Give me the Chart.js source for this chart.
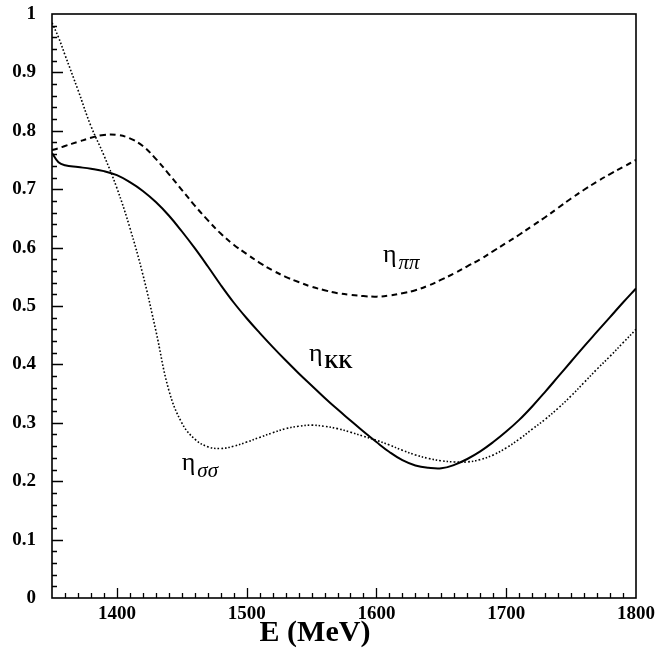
<!DOCTYPE html>
<html>
<head>
<meta charset="utf-8">
<script src="https://cdn.jsdelivr.net/npm/chart.js@4.4.1/dist/chart.umd.min.js"></script>
<style>
  html, body { margin: 0; padding: 0; background: #fff; }
  #wrap { width: 669px; height: 661px; position: relative; }
</style>
</head>
<body>
<div id="wrap"><canvas id="c" width="669" height="661"></canvas></div>
<script>
// Energy grid (MeV)
const energies = [1350,1355,1360,1370,1380,1390,1400,1410,1420,1430,1440,1450,1460,1470,1480,1490,
  1500,1510,1520,1530,1540,1550,1560,1570,1580,1590,1600,1610,1620,1630,1640,1650,1660,1670,1680,1690,
  1700,1710,1720,1730,1740,1750,1760,1770,1780,1790,1800];

// Inelasticity for the K Kbar channel (solid)
const etaKK = [0.762,0.746,0.741,0.738,0.735,0.731,0.724,0.712,0.697,0.678,0.655,0.628,0.599,0.568,0.536,0.506,
  0.479,0.454,0.430,0.407,0.385,0.364,0.343,0.323,0.304,0.285,0.267,0.250,0.236,0.227,0.223,0.222,0.228,0.238,0.251,0.267,
  0.285,0.305,0.328,0.353,0.379,0.405,0.431,0.456,0.481,0.506,0.530];

// Inelasticity for the pi pi channel (dashed)
const etaPiPi = [0.767,0.770,0.774,0.781,0.788,0.793,0.793,0.787,0.774,0.752,0.726,0.699,0.672,0.647,0.624,0.605,
  0.589,0.574,0.561,0.550,0.541,0.533,0.527,0.522,0.519,0.517,0.516,0.518,0.522,0.527,0.535,0.545,0.556,0.568,0.580,0.594,
  0.608,0.622,0.637,0.652,0.668,0.684,0.699,0.713,0.726,0.738,0.750];

// Inelasticity for the sigma sigma channel (dotted)
const etaSigSig = [0.985,0.960,0.930,0.870,0.808,0.758,0.702,0.634,0.554,0.458,0.356,0.300,0.272,0.259,0.256,0.260,
  0.267,0.275,0.283,0.290,0.294,0.296,0.294,0.290,0.284,0.277,0.270,0.262,0.253,0.245,0.239,0.235,0.233,0.233,0.237,0.245,
  0.257,0.272,0.289,0.306,0.325,0.346,0.369,0.392,0.414,0.437,0.460];

const xTickValues = [1400,1500,1600,1700,1800];
const yTickValues = [0,0.1,0.2,0.3,0.4,0.5,0.6,0.7,0.8,0.9,1];
const yTickLabels = ['0','0.1','0.2','0.3','0.4','0.5','0.6','0.7','0.8','0.9','1'];
const xAxisTitle = 'E (MeV)';

const SERIF = '"Liberation Serif", "Times New Roman", serif';
const pts = ys => energies.map((e, i) => ({ x: e, y: ys[i] }));

// Inward tick marks, frame, axis title and curve labels
const decorations = {
  id: 'decorations',
  afterDraw(chart) {
    const { ctx, chartArea: a, scales: { x, y } } = chart;
    ctx.save();
    ctx.strokeStyle = '#000';
    ctx.lineWidth = 1.3;
    ctx.beginPath();
    for (let v = 1350; v <= 1800; v += 10) {
      if (v === 1350 || v === 1800) continue;
      const px = Math.round(x.getPixelForValue(v)) + 0.5;
      const len = (v % 100 === 0) ? 10 : 5;
      ctx.moveTo(px, a.bottom); ctx.lineTo(px, a.bottom - len);
    }
    for (let k = 1; k < 50; k++) {
      const v = k / 50;
      const py = Math.round(y.getPixelForValue(v)) + 0.5;
      const len = (k % 5 === 0) ? 11 : 5;
      ctx.moveTo(a.left, py); ctx.lineTo(a.left + len, py);
    }
    ctx.stroke();
    ctx.lineWidth = 1.6;
    ctx.strokeRect(a.left, a.top, a.right - a.left, a.bottom - a.top);

    ctx.fillStyle = '#000';
    ctx.textBaseline = 'alphabetic';
    ctx.textAlign = 'left';
    ctx.font = 'bold 30px ' + SERIF;
    const tw = ctx.measureText(xAxisTitle).width;
    ctx.fillText(xAxisTitle, 315 - tw / 2, 641);

    const label = (xv, yv, sub, subFont) => {
      const px = x.getPixelForValue(xv), py = y.getPixelForValue(yv);
      ctx.font = '26px ' + SERIF;
      ctx.fillText('\u03B7', px, py);
      const w = ctx.measureText('\u03B7').width;
      ctx.font = subFont;
      ctx.fillText(sub, px + w + 2, py + 7);
    };
    label(1605, 0.575, '\u03C0\u03C0', 'italic 21px ' + SERIF);
    label(1548, 0.405, 'KK', 'bold 18px ' + SERIF);
    label(1450, 0.22, '\u03C3\u03C3', 'italic 21px ' + SERIF);
    ctx.restore();
  }
};

new Chart(document.getElementById('c'), {
  type: 'line',
  data: {
    datasets: [
      { label: 'etaPiPi', data: pts(etaPiPi), borderColor: '#000', borderWidth: 2,
        borderDash: [6, 4], pointRadius: 0, tension: 0.4 },
      { label: 'etaKK', data: pts(etaKK), borderColor: '#000', borderWidth: 2,
        pointRadius: 0, tension: 0.4 },
      { label: 'etaSigSig', data: pts(etaSigSig), borderColor: '#000', borderWidth: 1.6,
        borderDash: [1.6, 2], pointRadius: 0, tension: 0.4 }
    ]
  },
  options: {
    responsive: false,
    animation: false,
    events: [],
    layout: { padding: { top: 14, right: 33, left: 0, bottom: 0 } },
    plugins: { legend: { display: false }, tooltip: { enabled: false } },
    scales: {
      x: {
        type: 'linear', min: 1350, max: 1800,
        grid: { display: false }, border: { display: false },
        afterBuildTicks: s => { s.ticks = xTickValues.map(v => ({ value: v })); },
        afterFit: s => { s.height = 63; s.paddingLeft = 0; s.paddingRight = 0; },
        ticks: { color: '#000', padding: -3, maxRotation: 0,
          font: { family: SERIF, size: 19, weight: 'bold' },
          callback: v => String(v) }
      },
      y: {
        type: 'linear', min: 0, max: 1,
        grid: { display: false }, border: { display: false },
        afterBuildTicks: s => { s.ticks = yTickValues.map(v => ({ value: v })); },
        afterFit: s => { s.width = 52; s.paddingTop = 0; s.paddingBottom = 0; },
        ticks: { color: '#000', padding: 8,
          font: { family: SERIF, size: 19, weight: 'bold' },
          callback: v => yTickLabels[yTickValues.indexOf(v)] ?? '' }
      }
    }
  },
  plugins: [decorations]
});
</script>
</body>
</html>
